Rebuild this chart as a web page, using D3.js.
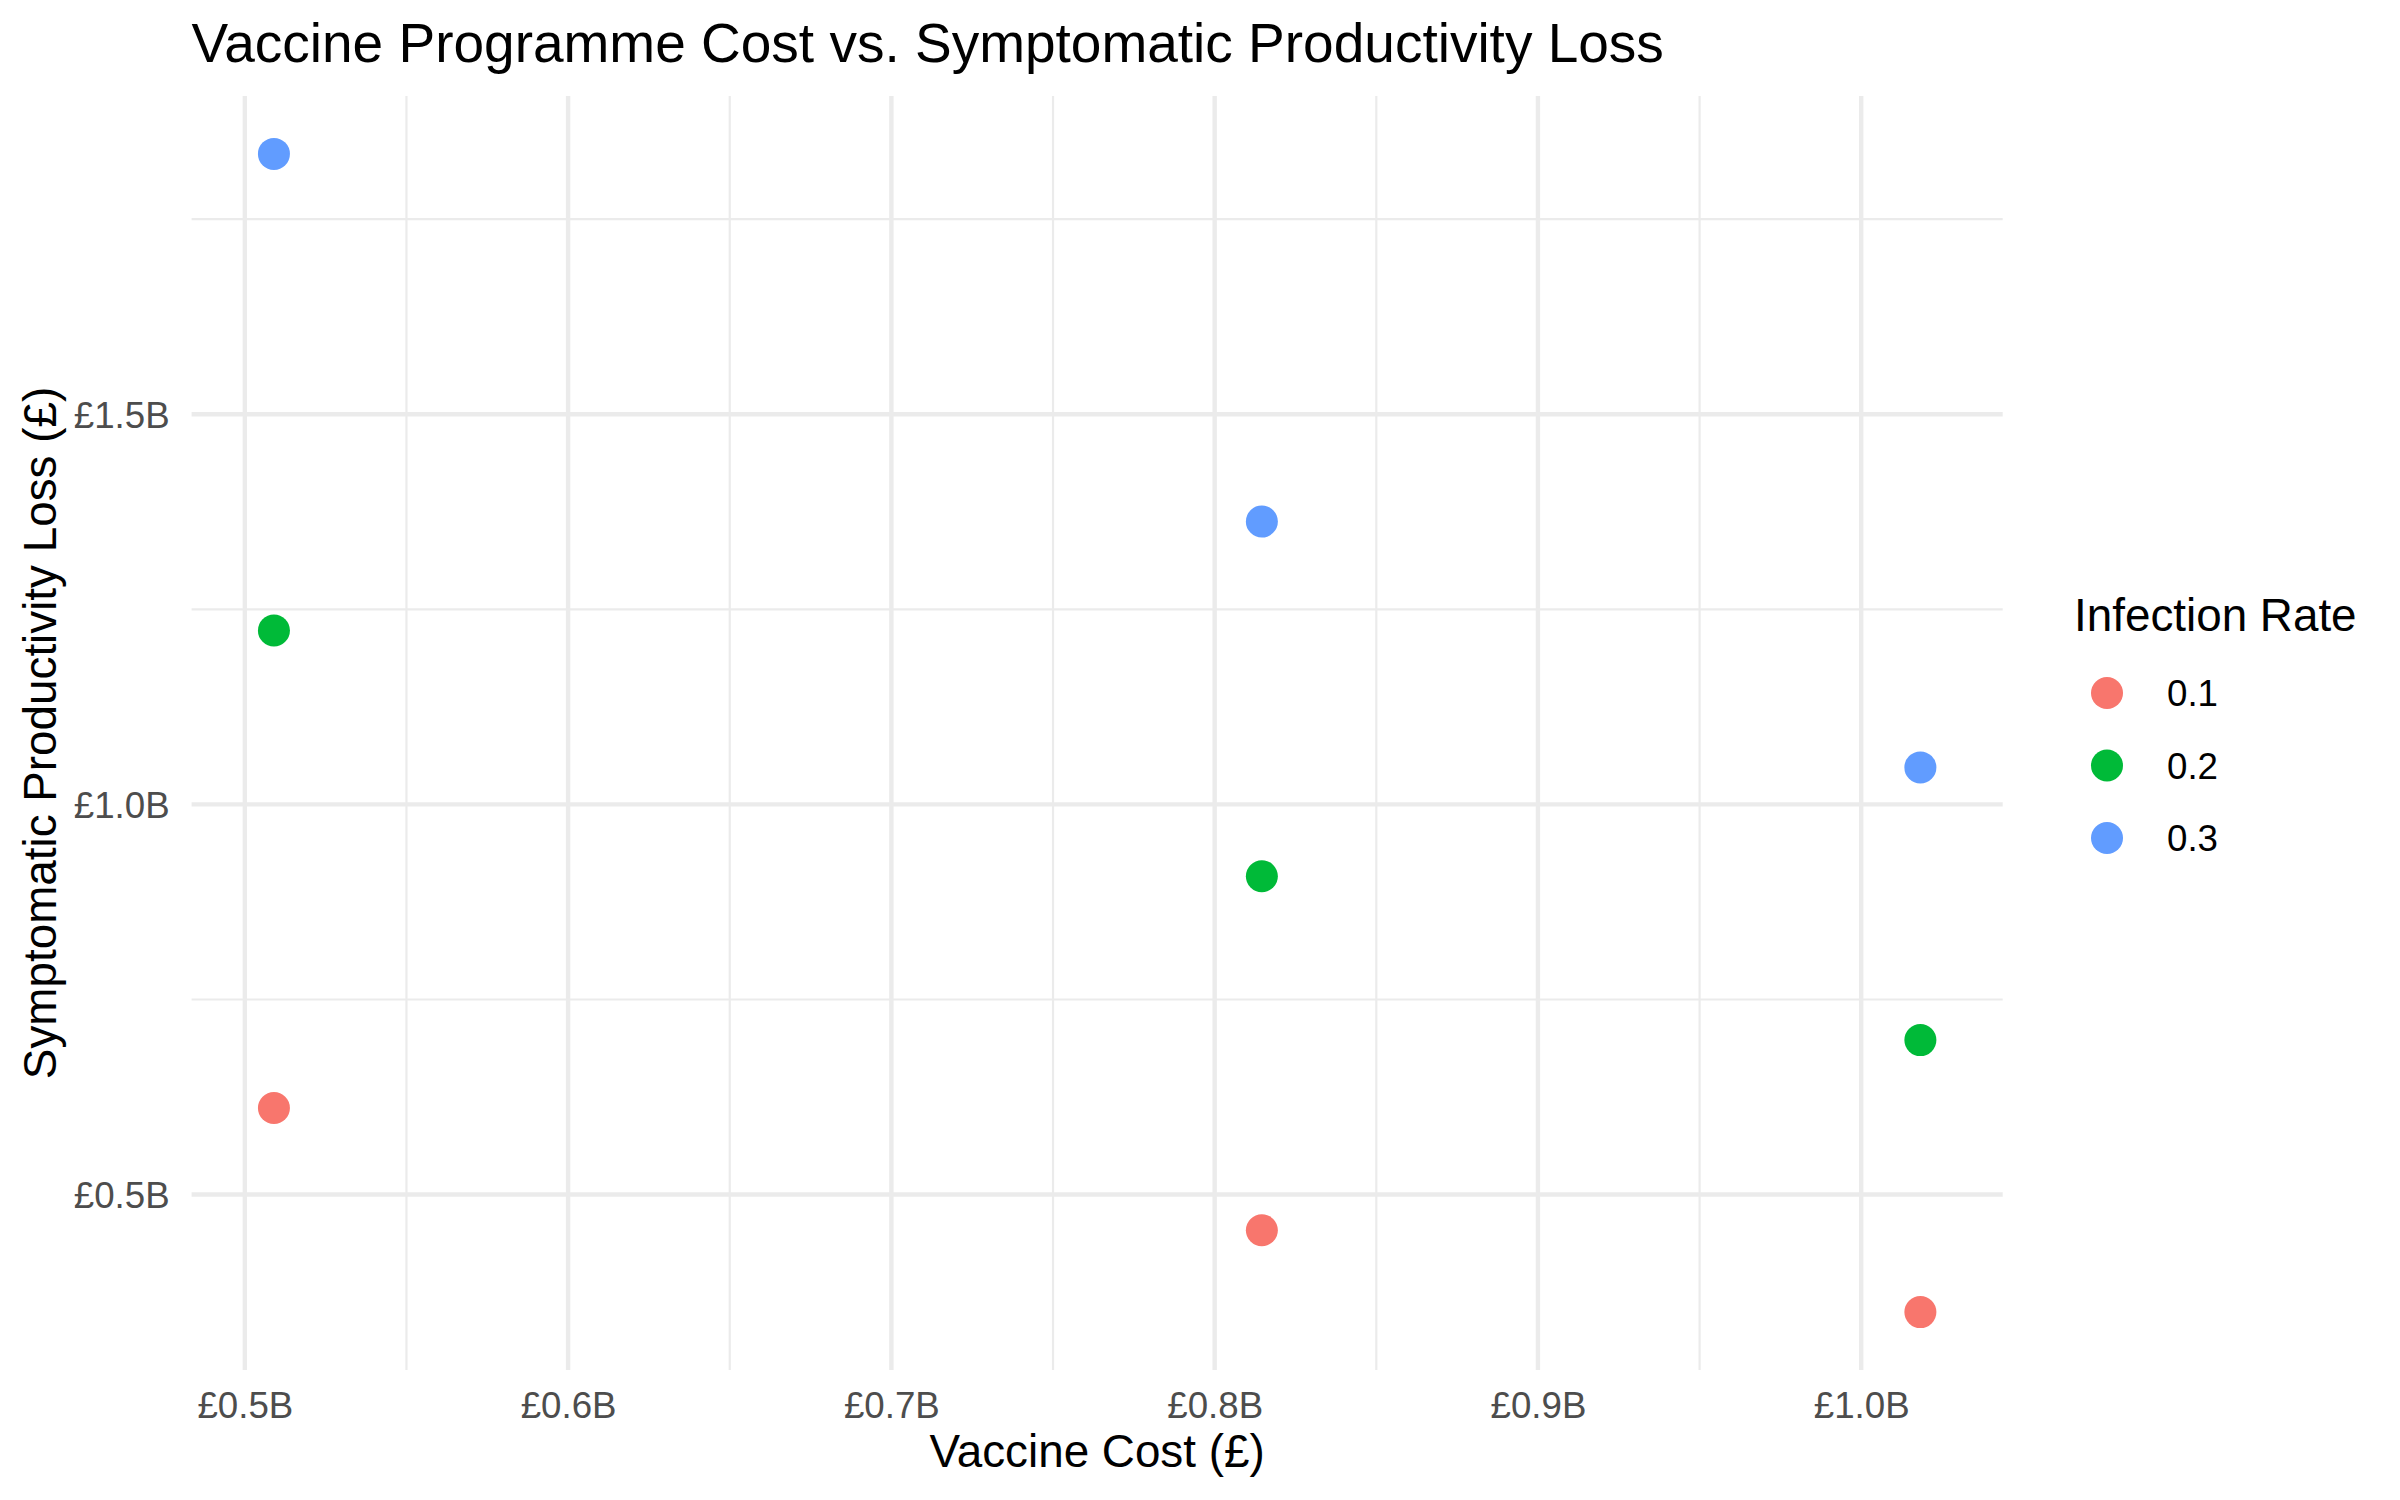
<!DOCTYPE html>
<html>
<head>
<meta charset="utf-8">
<script src="https://cdn.jsdelivr.net/npm/d3@7"></script>
<style>
  html, body { margin: 0; padding: 0; background: #ffffff; }
  svg { display: block; }
  text { font-family: "Liberation Sans", Arial, sans-serif; }
</style>
</head>
<body>
<svg id="chart" width="2400" height="1500"></svg>
<script>
// ---- data (billions of £) ----
const vaccineCost = [0.509, 0.8146, 1.0183];
const infectionRates = ["0.1", "0.2", "0.3"];
const lossRate01 = [0.611, 0.4543, 0.3494];
const lossRate02 = [1.2229, 0.908, 0.698];
const lossRate03 = [1.8336, 1.3625, 1.0474];
const xTicks = [0.5, 0.6, 0.7, 0.8, 0.9, 1.0];
const yTicks = [0.5, 1.0, 1.5];
const seriesColors = ["#F8766D", "#00BA38", "#619CFF"];

const lossSeries = [lossRate01, lossRate02, lossRate03];
const points = [];
infectionRates.forEach((r, i) => {
  vaccineCost.forEach((c, j) => points.push({ rate: r, cost: c, loss: lossSeries[i][j] }));
});

const svg = d3.select("#chart");
const panel = { left: 191.6, right: 2002.7, top: 96, bottom: 1370 };

function expand(ext) {
  const pad = (ext[1] - ext[0]) * 0.05;
  return [ext[0] - pad, ext[1] + pad];
}
const x = d3.scaleLinear()
  .domain(expand(d3.extent(points, d => d.cost)))
  .range([panel.left, panel.right]);
const y = d3.scaleLinear()
  .domain(expand(d3.extent(points, d => d.loss)))
  .range([panel.bottom, panel.top]);
const color = d3.scaleOrdinal().domain(infectionRates).range(seriesColors);

const fmt = v => "£" + d3.format(".1f")(v) + "B";

// minor grid
const xMinor = xTicks.slice(0, -1).map((t, i) => (t + xTicks[i + 1]) / 2)
  .concat([xTicks[0] - 0.05, xTicks[xTicks.length - 1] + 0.05])
  .filter(v => v >= x.domain()[0] && v <= x.domain()[1]);
const yMinor = [0.25, 0.75, 1.25, 1.75, 2.25]
  .filter(v => v >= y.domain()[0] && v <= y.domain()[1]);

const grid = svg.append("g");
grid.selectAll("line.xminor").data(xMinor).enter().append("line")
  .attr("x1", d => x(d)).attr("x2", d => x(d))
  .attr("y1", panel.top).attr("y2", panel.bottom)
  .attr("stroke", "#EBEBEB").attr("stroke-width", 2.2);
grid.selectAll("line.yminor").data(yMinor).enter().append("line")
  .attr("y1", d => y(d)).attr("y2", d => y(d))
  .attr("x1", panel.left).attr("x2", panel.right)
  .attr("stroke", "#EBEBEB").attr("stroke-width", 2.2);
grid.selectAll("line.xmajor").data(xTicks).enter().append("line")
  .attr("x1", d => x(d)).attr("x2", d => x(d))
  .attr("y1", panel.top).attr("y2", panel.bottom)
  .attr("stroke", "#EBEBEB").attr("stroke-width", 4.4);
grid.selectAll("line.ymajor").data(yTicks).enter().append("line")
  .attr("y1", d => y(d)).attr("y2", d => y(d))
  .attr("x1", panel.left).attr("x2", panel.right)
  .attr("stroke", "#EBEBEB").attr("stroke-width", 4.4);

// axes via d3 axis generators (no lines, just labels)
const xAxis = svg.append("g")
  .attr("transform", `translate(0,${panel.bottom})`)
  .call(d3.axisBottom(x).tickValues(xTicks).tickFormat(fmt).tickSize(0).tickPadding(0));
xAxis.select(".domain").remove();
xAxis.selectAll("text")
  .attr("y", 48).attr("dy", 0)
  .attr("fill", "#4D4D4D").attr("font-size", 36.7)
  .attr("font-family", "Liberation Sans, Arial, sans-serif");

const yAxis = svg.append("g")
  .attr("transform", `translate(${panel.left},0)`)
  .call(d3.axisLeft(y).tickValues(yTicks).tickFormat(fmt).tickSize(0).tickPadding(0));
yAxis.select(".domain").remove();
yAxis.selectAll("text")
  .attr("x", -22).attr("dy", "0.36em")
  .attr("fill", "#4D4D4D").attr("font-size", 36.7)
  .attr("font-family", "Liberation Sans, Arial, sans-serif");

// points
svg.append("g").selectAll("circle").data(points).enter().append("circle")
  .attr("cx", d => x(d.cost)).attr("cy", d => y(d.loss))
  .attr("r", 16).attr("fill", d => color(d.rate));

// titles
svg.append("text")
  .attr("x", panel.left).attr("y", 62)
  .attr("font-size", 55).attr("fill", "#000")
  .text("Vaccine Programme Cost vs. Symptomatic Productivity Loss");

svg.append("text")
  .attr("x", (panel.left + panel.right) / 2).attr("y", 1467)
  .attr("text-anchor", "middle").attr("font-size", 45.8).attr("fill", "#000")
  .text("Vaccine Cost (£)");

svg.append("text")
  .attr("transform", `translate(56,${(panel.top + panel.bottom) / 2}) rotate(-90)`)
  .attr("text-anchor", "middle").attr("font-size", 45.8).attr("fill", "#000")
  .text("Symptomatic Productivity Loss (£)");

// legend
const legend = svg.append("g");
legend.append("text")
  .attr("x", 2074).attr("y", 631)
  .attr("font-size", 45.8).attr("fill", "#000")
  .text("Infection Rate");
const keyY = d3.scalePoint().domain(infectionRates).range([693, 838]);
const items = legend.selectAll("g.item").data(infectionRates).enter().append("g");
items.append("circle")
  .attr("cx", 2107).attr("cy", d => keyY(d)).attr("r", 16)
  .attr("fill", d => color(d));
items.append("text")
  .attr("x", 2167).attr("y", d => keyY(d)).attr("dy", "0.36em")
  .attr("font-size", 36.7).attr("fill", "#000")
  .text(d => d);
</script>
</body>
</html>
